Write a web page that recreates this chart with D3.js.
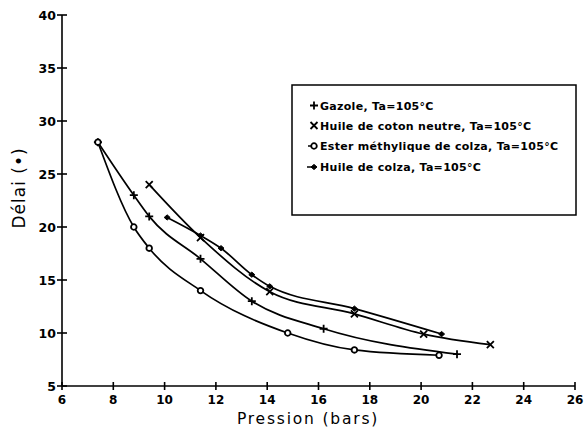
<!DOCTYPE html>
<html><head><meta charset="utf-8">
<script src="https://cdn.jsdelivr.net/npm/d3@7"></script>
<style>body{margin:0;background:#fff}svg{display:block}</style>
</head><body><svg id="c" width="585" height="435"></svg>
<script>
const xTicks = [6,8,10,12,14,16,18,20,22,24,26];
const yTicks = [5,10,15,20,25,30,35,40];
const gazoleX = [7.4, 8.8, 9.4, 11.4, 13.4, 16.2, 21.4];
const gazoleY = [28, 23, 21, 17, 13, 10.4, 8];
const cotonX = [9.4, 11.4, 14.1, 17.4, 20.1, 22.7];
const cotonY = [24, 19, 13.9, 11.8, 9.9, 8.9];
const esterX = [7.4, 8.8, 9.4, 11.4, 14.8, 17.4, 20.7];
const esterY = [28, 20, 18, 14, 10, 8.4, 7.9];
const colzaX = [10.1, 11.4, 12.2, 13.4, 14.1, 17.4, 20.8];
const colzaY = [20.9, 19.2, 18, 15.5, 14.4, 12.3, 9.9];
const seriesNames = ["Gazole, Ta=105°C","Huile de coton neutre, Ta=105°C","Ester méthylique de colza, Ta=105°C","Huile de colza, Ta=105°C"];
const markerTypes = ["plus","cross","circle","dot"];

const svg = d3.select("#c");
const x = d3.scaleLinear().domain([6,26]).range([62,575]);
const y = d3.scaleLinear().domain([5,40]).range([386,15]);

// axes
const g = svg.append("g").attr("stroke","#000").attr("stroke-width",1.6);
g.append("line").attr("x1",x(6)).attr("x2",x(26)).attr("y1",y(5)).attr("y2",y(5));
g.append("line").attr("x1",x(6)).attr("x2",x(6)).attr("y1",y(5)).attr("y2",y(40));
xTicks.forEach(t=>{
  g.append("line").attr("x1",x(t)).attr("x2",x(t)).attr("y1",y(5)-4).attr("y2",y(5)+4);
});
yTicks.forEach(t=>{
  g.append("line").attr("x1",x(6)-5).attr("x2",x(6)+5).attr("y1",y(t)).attr("y2",y(t));
});
const fnt = "'DejaVu Sans', sans-serif";
svg.append("g").selectAll("text").data(xTicks).join("text")
  .attr("x",d=>x(d)).attr("y",403.5).attr("text-anchor","middle")
  .attr("font-family",fnt).attr("font-weight","bold").attr("font-size",12).text(d=>d);
svg.append("g").selectAll("text").data(yTicks).join("text")
  .attr("x",56).attr("y",d=>y(d)+4.5).attr("text-anchor","end")
  .attr("font-family",fnt).attr("font-weight","bold").attr("font-size",12.5).text(d=>d);

svg.append("text").attr("x",308).attr("y",424).attr("text-anchor","middle")
  .attr("font-family",fnt).attr("font-size",15.5).attr("letter-spacing",1.8).text("Pression (bars)");
svg.append("text").attr("transform","translate(25,188) rotate(-90)").attr("text-anchor","middle")
  .attr("font-family",fnt).attr("font-size",17).attr("letter-spacing",1).text("Délai (•)");

// curves
const line = d3.line().x(d=>x(d[0])).y(d=>y(d[1])).curve(d3.curveMonotoneX);
const series = [
  d3.zip(gazoleX,gazoleY), d3.zip(cotonX,cotonY), d3.zip(esterX,esterY), d3.zip(colzaX,colzaY)
];
function marker(sel, type, cx, cy){
  const m = sel.append("g").attr("transform",`translate(${cx},${cy})`).attr("stroke","#000").attr("stroke-width",1.8);
  if(type==="plus"){
    m.append("path").attr("d","M-4,0H4M0,-4V4");
  } else if(type==="cross"){
    m.append("path").attr("d","M-3.5,-3.5L3.5,3.5M-3.5,3.5L3.5,-3.5");
  } else if(type==="circle"){
    m.append("circle").attr("r",2.8).attr("fill","#fff").attr("stroke-width",1.8);
  } else {
    m.append("path").attr("d","M-3,0L0,-2.6L3,0L0,2.6Z").attr("fill","#000").attr("stroke-width",1);
  }
}
series.forEach((s,i)=>{
  svg.append("path").attr("d",line(s)).attr("fill","none").attr("stroke","#000").attr("stroke-width",1.7);
  s.forEach(p=>marker(svg, markerTypes[i], x(p[0]), y(p[1])));
});

// legend
svg.append("rect").attr("x",292).attr("y",85).attr("width",284).attr("height",130)
  .attr("fill","#fff").attr("stroke","#000").attr("stroke-width",1.5);
const legY = [105.5,125.5,146,167];
seriesNames.forEach((n,i)=>{
  const lg = svg.append("g");
  if(i===3){ lg.append("line").attr("x1",307).attr("x2",313).attr("y1",legY[i]).attr("y2",legY[i]).attr("stroke","#000").attr("stroke-width",1.5); }
  if(i===2){ lg.append("line").attr("x1",308).attr("x2",311).attr("y1",legY[i]).attr("y2",legY[i]).attr("stroke","#000").attr("stroke-width",1.5); }
  marker(lg, markerTypes[i], 314, legY[i]);
  lg.append("text").attr("x",320).attr("y",legY[i]+4).attr("font-family",fnt)
    .attr("font-weight","bold").attr("font-size",11).attr("letter-spacing",0.3).text(n);
});
</script></body></html>
